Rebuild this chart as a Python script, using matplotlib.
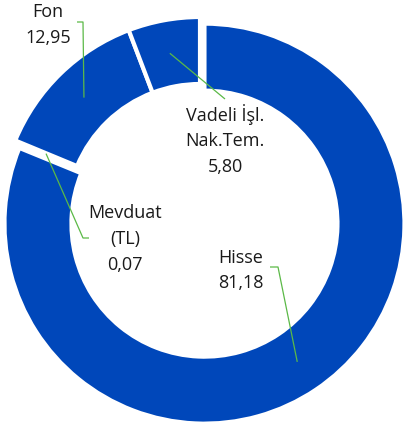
import numpy as np
import matplotlib
matplotlib.use("Agg")
import matplotlib.pyplot as plt

# Données
etiquettes = ["Hisse", "Mevduat\n(TL)", "Fon", "Vadeli İşl.\nNak.Tem."]
valeurs = [81.18, 0.07, 12.95, 5.80]
eclatement = [0.04, 0.0, 0.0, 0.0]

# Style
bleu = "#0047BA"
vert = "#5BB947"
plt.rcParams["font.family"] = ["Open Sans", "DejaVu Sans"]

fig = plt.figure(figsize=(4.04, 4.29), dpi=100)
ax = fig.add_axes([0, 0, 1, 1])

largeur = 0.335
wedges, _ = ax.pie(valeurs, startangle=90, counterclock=False, radius=1.0,
                   explode=eclatement, colors=[bleu] * len(valeurs),
                   wedgeprops=dict(width=largeur, edgecolor="white", linewidth=3))

ax.set_xlim(-1.0, 1.02)
ax.set_ylim(-1.06, 1.085)
ax.set_aspect("equal")
ax.axis("off")

# Position des étiquettes (texte) et coude du trait de rappel
pos_texte = [(0.205, -0.268), (-0.375, -0.11), (-0.76, 0.96), (0.125, 0.385)]
coude = [[(0.35, -0.25), (0.39, -0.25)],
         [(-0.555, -0.105), (-0.585, -0.105)],
         [(-0.615, 0.975), (-0.585, 0.975)],
         [(0.125, 0.59)]]

r_mil = 1.0 - largeur / 2
for w, lab, v, pt, cd in zip(wedges, etiquettes, valeurs, pos_texte, coude):
    ang = np.deg2rad((w.theta1 + w.theta2) / 2)
    cx, cy = w.center
    bout = (cx + r_mil * np.cos(ang), cy + r_mil * np.sin(ang))
    xs = [p[0] for p in cd] + [bout[0]]
    ys = [p[1] for p in cd] + [bout[1]]
    ax.plot(xs, ys, color=vert, lw=0.9, solid_capstyle="butt")
    txt = lab + "\n" + f"{v:.2f}".replace(".", ",")
    ax.text(pt[0], pt[1], txt, ha="center", va="center", fontsize=13,
            color="#1a1a1a", linespacing=1.55)

fig.savefig("out.png", dpi=100)
